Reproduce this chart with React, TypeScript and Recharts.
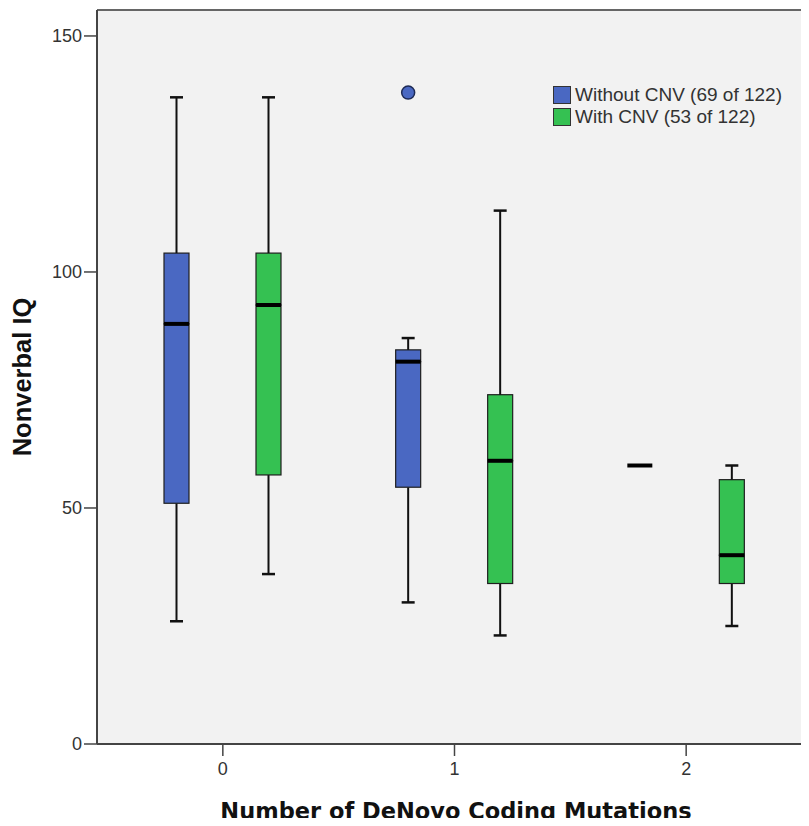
import React from "react";
import {
  ComposedChart,
  Bar,
  XAxis,
  YAxis,
  CartesianGrid,
  Legend,
  ReferenceLine,
} from "recharts";

const categories = ["0", "1", "2"];

// Without CNV
const withoutMin = [26, 30, 59];
const withoutQ1 = [51, 54.4, 59];
const withoutMedian = [89, 81, 59];
const withoutQ3 = [104, 83.5, 59];
const withoutMax = [137, 86, 59];
const withoutOutlier: (number | null)[] = [null, 138, null];

// With CNV
const withMin = [36, 23, 25];
const withQ1 = [57, 34, 34];
const withMedian = [93, 60, 40];
const withQ3 = [104, 74, 56];
const withMax = [137, 113, 59];
const withOutlier: (number | null)[] = [null, null, null];

const seriesNames = ["Without CNV (69 of 122)", "With CNV (53 of 122)"];
const seriesColors = ["#4a68c2", "#35c152"];
const yTicks = [0, 50, 100, 150];
const yMax = 155.5;

const segments = (
  min: number[],
  q1: number[],
  med: number[],
  q3: number[],
  max: number[],
  out: (number | null)[],
  i: number
) => ({
  base: min[i],
  low: q1[i] - min[i],
  boxLow: med[i] - q1[i],
  boxHigh: q3[i] - med[i],
  high: max[i] - q3[i],
  gap: out[i] != null ? (out[i] as number) - max[i] : 0,
  out: out[i],
});

const data = categories.map((cat, i) => {
  const a = segments(withoutMin, withoutQ1, withoutMedian, withoutQ3, withoutMax, withoutOutlier, i);
  const b = segments(withMin, withQ1, withMedian, withQ3, withMax, withOutlier, i);
  return {
    cat,
    aBase: a.base, aLow: a.low, aBoxLow: a.boxLow, aBoxHigh: a.boxHigh, aHigh: a.high, aGap: a.gap, aOut: a.out,
    bBase: b.base, bLow: b.low, bBoxLow: b.boxLow, bBoxHigh: b.boxHigh, bHigh: b.high, bGap: b.gap, bOut: b.out,
  };
});

const WHISKER = "#111";
const CAP = 6.5;

const lowWhisker = (p: any) => {
  const { x, y, width, height } = p;
  if (!height || height <= 0) return <g />;
  const cx = x + width / 2;
  return (
    <g>
      <line x1={cx} x2={cx} y1={y} y2={y + height} stroke={WHISKER} strokeWidth={2} />
      <line x1={cx - CAP} x2={cx + CAP} y1={y + height} y2={y + height} stroke={WHISKER} strokeWidth={2.5} />
    </g>
  );
};

const highWhisker = (p: any) => {
  const { x, y, width, height } = p;
  if (!height || height <= 0) return <g />;
  const cx = x + width / 2;
  return (
    <g>
      <line x1={cx} x2={cx} y1={y} y2={y + height} stroke={WHISKER} strokeWidth={2} />
      <line x1={cx - CAP} x2={cx + CAP} y1={y} y2={y} stroke={WHISKER} strokeWidth={2.5} />
    </g>
  );
};

// upper half of the box draws the median at its bottom edge
const boxShape = (color: string, withMedian: boolean) => (p: any) => {
  const { x, y, width, height } = p;
  const h = height > 0 ? height : 0;
  return (
    <g>
      {h > 0 && (
        <rect x={x} y={y} width={width} height={h} fill={color} stroke="#1e1e1e" strokeWidth={1.2} />
      )}
      {withMedian && (
        <line x1={x} x2={x + width} y1={y + h} y2={y + h} stroke="#000" strokeWidth={4} />
      )}
    </g>
  );
};

const outlierShape = (key: string, color: string) => (p: any) => {
  const { x, y, width, payload } = p;
  if (payload == null || payload[key] == null) return <g />;
  return <circle cx={x + width / 2} cy={y} r={6.5} fill={color} stroke="#1d2a55" strokeWidth={1.5} />;
};

const renderLegend = () => (
  <div style={{ fontFamily: "'Liberation Sans', Arial, sans-serif", fontSize: 19, color: "#333", lineHeight: "22px" }}>
    {seriesNames.map((name, i) => (
      <div key={name} style={{ display: "flex", alignItems: "center", height: 22 }}>
        <span
          style={{
            display: "inline-block",
            width: 18,
            height: 18,
            background: seriesColors[i],
            border: "1px solid #333",
            boxSizing: "border-box",
            marginRight: 4,
          }}
        />
        {name}
      </div>
    ))}
  </div>
);

const tickStyle = { fontSize: 18, fill: "#333", fontFamily: "'Liberation Sans', Arial, sans-serif" };

export default function App() {
  return (
    <div style={{ marginRight: -8, marginBottom: -8 }}>
      <ComposedChart
        width={801}
        height={818}
        data={data}
        margin={{ top: 2, right: 0, bottom: 0, left: 0 }}
        barSize={25}
        barGap={67}
      >
        <CartesianGrid fill="#f2f2f2" horizontal={false} vertical={false} stroke="none" />
        <XAxis
          dataKey="cat"
          height={82}
          padding={{ left: 10, right: 7 }}
          axisLine={{ stroke: "#444", strokeWidth: 2 }}
          tickLine={{ stroke: "#444", strokeWidth: 1.5 }}
          tickSize={12}
          tickMargin={6}
          tick={tickStyle}
          label={{
            value: "Number of DeNovo Coding Mutations",
            position: "insideBottom",
            offset: 7,
            dx: 3,
            style: {
              fontSize: 22.5,
              fontWeight: "bold",
              fill: "#111",
              fontFamily: "'DejaVu Sans', Verdana, sans-serif",
            },
          }}
        />
        <YAxis
          width={89}
          domain={[0, yMax]}
          ticks={yTicks}
          interval={0}
          axisLine={{ stroke: "#444", strokeWidth: 2 }}
          tickLine={{ stroke: "#444", strokeWidth: 1.5 }}
          tickSize={13}
          tickMargin={2}
          tick={tickStyle}
          label={{
            value: "Nonverbal IQ",
            content: (props: any) => {
              const vb = props.viewBox;
              const cx = vb.x + 14;
              const cy = vb.y + vb.height / 2;
              return (
                <text
                  x={cx}
                  y={cy}
                  transform={`rotate(-90 ${cx} ${cy})`}
                  textAnchor="middle"
                  dominantBaseline="central"
                  style={{
                    fontSize: 25.5,
                    fontWeight: "bold",
                    fill: "#111",
                    fontFamily: "'Liberation Sans', Arial, sans-serif",
                  }}
                >
                  Nonverbal IQ
                </text>
              );
            },
          }}
        />
        <ReferenceLine y={yMax} stroke="#666" strokeWidth={2} />
        <Legend
          content={renderLegend}
          layout="vertical"
          align="center"
          verticalAlign="middle"
          wrapperStyle={{ left: 545, top: 76, width: 250 }}
        />

        <Bar dataKey="aBase" stackId="a" fill="transparent" isAnimationActive={false} />
        <Bar dataKey="aLow" stackId="a" shape={lowWhisker} isAnimationActive={false} />
        <Bar dataKey="aBoxLow" stackId="a" shape={boxShape(seriesColors[0], false)} isAnimationActive={false} />
        <Bar dataKey="aBoxHigh" stackId="a" shape={boxShape(seriesColors[0], true)} isAnimationActive={false} />
        <Bar dataKey="aHigh" stackId="a" shape={highWhisker} isAnimationActive={false} />
        <Bar dataKey="aGap" stackId="a" shape={outlierShape("aOut", seriesColors[0])} isAnimationActive={false} />

        <Bar dataKey="bBase" stackId="b" fill="transparent" isAnimationActive={false} />
        <Bar dataKey="bLow" stackId="b" shape={lowWhisker} isAnimationActive={false} />
        <Bar dataKey="bBoxLow" stackId="b" shape={boxShape(seriesColors[1], false)} isAnimationActive={false} />
        <Bar dataKey="bBoxHigh" stackId="b" shape={boxShape(seriesColors[1], true)} isAnimationActive={false} />
        <Bar dataKey="bHigh" stackId="b" shape={highWhisker} isAnimationActive={false} />
        <Bar dataKey="bGap" stackId="b" shape={outlierShape("bOut", seriesColors[1])} isAnimationActive={false} />
      </ComposedChart>
    </div>
  );
}
